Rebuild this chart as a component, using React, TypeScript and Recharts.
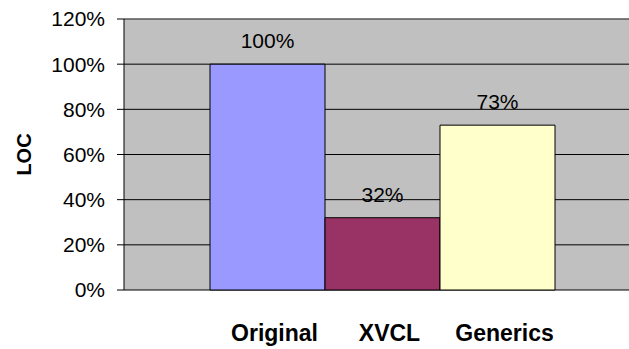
import {
  BarChart,
  Bar,
  XAxis,
  YAxis,
  CartesianGrid,
  LabelList,
  ReferenceLine,
} from "recharts";

const variants = ["Original", "XVCL", "Generics"];
const locShare = [1.0, 0.32, 0.73];
const yTicks = [0, 0.2, 0.4, 0.6, 0.8, 1.0, 1.2];
const barColors = ["#9999FF", "#993366", "#FFFFCC"];

const FONT = "'Liberation Sans', Arial, sans-serif";

// one group with a bar per variant, like the clustered Excel chart
const row: Record<string, string | number> = { group: "" };
variants.forEach((name, i) => {
  row[name] = locShare[i];
});
const data = [row];

const pct = (v: any) => `${Math.round(Number(v) * 100)}%`;

const nameLabel = (name: string) => (props: any) => {
  const { x, y, width, height } = props;
  return (
    <text
      x={Number(x) + Number(width) / 2 + 7}
      y={Number(y) + Number(height) + 51}
      textAnchor="middle"
      fontFamily={FONT}
      fontWeight="bold"
      fontSize={23}
      fill="#000"
    >
      {name}
    </text>
  );
};

const locLabel = (props: any) => {
  const vb = props.viewBox;
  const cx = vb.x + 24;
  const cy = vb.y + vb.height / 2;
  return (
    <text
      x={cx}
      y={cy}
      transform={`rotate(-90 ${cx} ${cy})`}
      textAnchor="middle"
      dominantBaseline="central"
      fontFamily={FONT}
      fontWeight="bold"
      fontSize={20}
      fill="#000"
    >
      LOC
    </text>
  );
};

export default function App() {
  return (
    <div style={{ position: "absolute", left: 0, top: 0, background: "#fff" }}>
      <BarChart
        width={640}
        height={349}
        data={data}
        margin={{ top: 19, right: 0, left: 0, bottom: 59 }}
        barGap={0}
        barSize={115}
      >
        <CartesianGrid
          vertical={false}
          fill="#C0C0C0"
          fillOpacity={1}
          stroke="#000"
          strokeWidth={1}
        />
        <ReferenceLine y={1.2} stroke="#808080" strokeWidth={1} />
        <XAxis
          dataKey="group"
          height={0}
          tick={false}
          tickLine={false}
          axisLine={{ stroke: "#000" }}
        />
        <YAxis
          width={124}
          domain={[0, 1.2]}
          ticks={yTicks}
          interval={0}
          tickFormatter={pct}
          tickSize={7}
          tickMargin={12}
          tickLine={{ stroke: "#000" }}
          axisLine={{ stroke: "#000" }}
          tick={{ fill: "#000", fontSize: 21, fontFamily: FONT }}
          label={{ content: locLabel }}
        />
        {variants.map((name, i) => (
          <Bar
            key={name}
            dataKey={name}
            fill={barColors[i]}
            stroke="#000"
            strokeWidth={1}
            isAnimationActive={false}
          >
            <LabelList
              dataKey={name}
              position="top"
              offset={16}
              formatter={pct}
              fill="#000"
              fontSize={21}
              fontFamily={FONT}
            />
            <LabelList dataKey={name} content={nameLabel(name)} />
          </Bar>
        ))}
      </BarChart>
    </div>
  );
}
